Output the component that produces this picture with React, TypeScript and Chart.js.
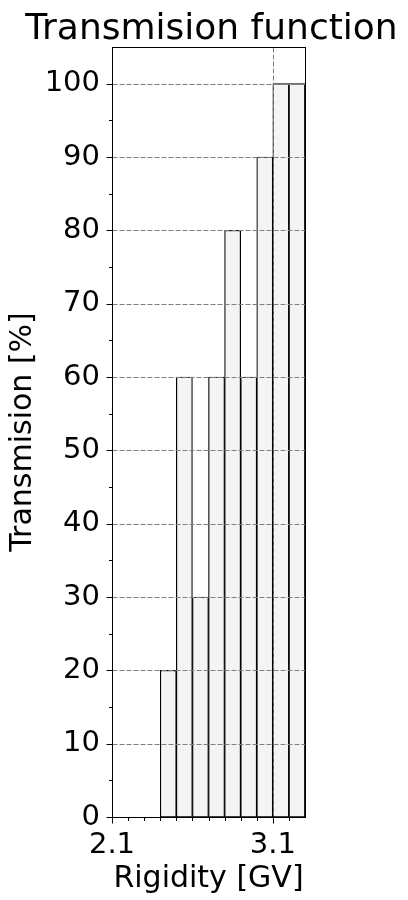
// App.tsx
import React, { useEffect, useRef } from 'react';
import Chart, { ChartConfiguration, Plugin } from 'chart.js/auto';

// bin edges of the histogram (GV) and transmission per bin (%)
const binEdges = [2.1, 2.2, 2.3, 2.4, 2.5, 2.6, 2.7, 2.8, 2.9, 3.0, 3.1, 3.2, 3.3];
const transmission = [0, 0, 0, 20, 60, 30, 60, 80, 60, 90, 100, 100];

const xMajorTicks = [2.1, 3.1];
const xMinorTicks = [2.2, 2.3, 2.4, 2.5, 2.6, 2.7, 2.8, 2.9, 3.0, 3.2];
const yMajorTicks = [0, 10, 20, 30, 40, 50, 60, 70, 80, 90, 100];
const yMinorTicks = [5, 15, 25, 35, 45, 55, 65, 75, 85, 95];

const FONT = 'DejaVu Sans';

// matplotlib-ish frame, dashed grid over the bars and outward tick marks
const axesPlugin: Plugin<'bar'> = {
  id: 'mplAxes',
  afterDatasetsDraw(chart) {
    const { ctx, chartArea: a } = chart;
    const xs = chart.scales.x;
    const ys = chart.scales.y;
    const L = Math.round(a.left) + 0.5;
    const R = Math.round(a.right) + 0.5;
    const T = Math.round(a.top) + 0.5;
    const B = Math.round(a.bottom) + 0.5;

    ctx.save();
    ctx.lineWidth = 1;
    ctx.strokeStyle = '#808080';
    ctx.setLineDash([5, 2]);
    yMajorTicks.forEach(v => {
      const y = Math.round(ys.getPixelForValue(v)) + 0.5;
      ctx.beginPath(); ctx.moveTo(L, y); ctx.lineTo(R, y); ctx.stroke();
    });
    xMajorTicks.forEach(v => {
      const x = Math.round(xs.getPixelForValue(v)) + 0.5;
      ctx.beginPath(); ctx.moveTo(x, T); ctx.lineTo(x, B); ctx.stroke();
    });
    ctx.setLineDash([]);

    ctx.strokeStyle = '#000';
    ctx.strokeRect(L, T, R - L, B - T);

    const tick = (x1: number, y1: number, x2: number, y2: number) => {
      ctx.beginPath(); ctx.moveTo(x1, y1); ctx.lineTo(x2, y2); ctx.stroke();
    };
    yMajorTicks.forEach(v => {
      const y = Math.round(ys.getPixelForValue(v)) + 0.5;
      tick(L - 6, y, L, y);
    });
    yMinorTicks.forEach(v => {
      const y = Math.round(ys.getPixelForValue(v)) + 0.5;
      tick(L - 3.5, y, L, y);
    });
    xMajorTicks.forEach(v => {
      const x = Math.round(xs.getPixelForValue(v)) + 0.5;
      tick(x, B, x, B + 6);
    });
    xMinorTicks.forEach(v => {
      const x = Math.round(xs.getPixelForValue(v)) + 0.5;
      tick(x, B, x, B + 3.5);
    });
    ctx.restore();
  }
};

export default function App() {
  const chartRef = useRef<HTMLCanvasElement | null>(null);

  useEffect(() => {
    document.body.style.margin = '0';

    const points = transmission.map((v, i) => ({
      x: (binEdges[i] + binEdges[i + 1]) / 2,
      y: v
    }));

    const config: ChartConfiguration<'bar'> = {
      type: 'bar',
      data: {
        datasets: [{
          label: 'Transmision',
          data: points as any,
          backgroundColor: '#f4f4f4',
          borderColor: '#000',
          borderWidth: 1.2,
          borderSkipped: false,
          barPercentage: 1,
          categoryPercentage: 1
        }]
      },
      options: {
        animation: false,
        responsive: true,
        maintainAspectRatio: false,
        // left padding shifts the title's centre over the axes
        layout: { padding: { left: 15, right: 0, top: 0, bottom: 0 } },
        plugins: {
          legend: { display: false },
          tooltip: { enabled: false },
          title: {
            display: true,
            text: 'Transmision function',
            color: '#000',
            font: { family: FONT, size: 36, weight: 'normal', lineHeight: 1.0 },
            padding: { top: 12, bottom: -1 }
          }
        },
        scales: {
          x: {
            type: 'linear',
            offset: false,
            min: binEdges[0],
            max: binEdges[binEdges.length - 1],
            afterBuildTicks: scale => { scale.ticks = xMajorTicks.map(v => ({ value: v })); },
            afterFit: scale => { scale.height = 83; },
            grid: { display: false, drawTicks: false, offset: false },
            border: { display: false },
            ticks: {
              color: '#000',
              padding: 11,
              maxRotation: 0,
              autoSkip: false,
              font: { family: FONT, size: 29, lineHeight: 1.2 },
              callback: v => Number(v).toFixed(1)
            },
            title: {
              display: true,
              text: 'Rigidity [GV]',
              color: '#000',
              font: { family: FONT, size: 30, lineHeight: 1.2 },
              padding: { top: 0, bottom: 3 }
            }
          },
          y: {
            min: 0,
            max: 105,
            afterBuildTicks: scale => { scale.ticks = yMajorTicks.map(v => ({ value: v })); },
            afterFit: scale => { scale.width = 97; },
            grid: { display: false, drawTicks: false },
            border: { display: false },
            ticks: {
              color: '#000',
              padding: 12,
              autoSkip: false,
              font: { family: FONT, size: 29 }
            },
            title: {
              display: true,
              text: 'Transmision [%]',
              color: '#000',
              font: { family: FONT, size: 30, lineHeight: 1.0 },
              padding: { top: -7, bottom: 0 }
            }
          },
          // empty right-hand box that keeps the space right of the axes
          yRight: {
            position: 'right',
            display: true,
            afterFit: scale => { scale.width = 103; },
            grid: { display: false, drawTicks: false },
            border: { display: false },
            ticks: { display: false }
          }
        }
      },
      plugins: [axesPlugin]
    };

    if (chartRef.current) {
      const chartInstance = new Chart(chartRef.current, config);
      return () => chartInstance.destroy();
    }
  }, []);

  return (
    <div style={{ position: 'relative', width: 408, height: 900 }}>
      <canvas ref={chartRef} />
    </div>
  );
}
